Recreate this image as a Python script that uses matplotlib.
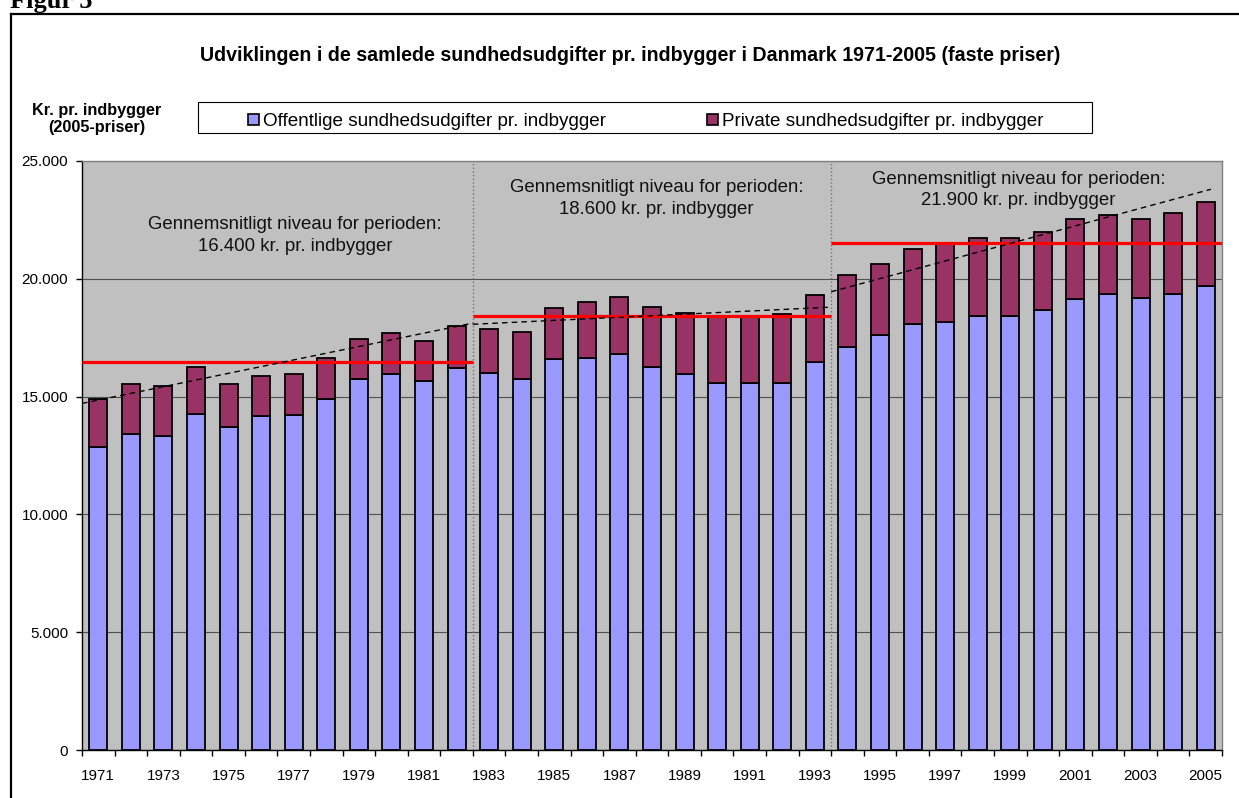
import numpy as np
import matplotlib
matplotlib.use("Agg")
import matplotlib.pyplot as plt
from matplotlib.patches import Rectangle
from matplotlib.lines import Line2D

plt.rcParams['font.family'] = ['Liberation Sans', 'DejaVu Sans']

# data (kr. pr. indbygger, 2005-priser)
years = list(range(1971, 2006))
offentlige = [12850, 13400, 13330, 14270, 13700, 14180, 14200, 14880, 15750, 15970,
              15660, 16210, 16010, 15760, 16590, 16640, 16790, 16250, 15970, 15590,
              15560, 15560, 16470, 17120, 17600, 18090, 18160, 18430, 18430, 18660,
              19140, 19340, 19170, 19370, 19700]
private = [2040, 2120, 2130, 2000, 1850, 1680, 1740, 1770, 1700, 1740,
           1710, 1780, 1870, 1980, 2170, 2390, 2430, 2550, 2590, 2840,
           2860, 2960, 2840, 3040, 3040, 3170, 3300, 3300, 3310, 3340,
           3400, 3380, 3380, 3430, 3540]

# the three periods, their average level and the dashed trend lines
periods = [(1971, 1982), (1983, 1993), (1994, 2005)]
avg_level = [16460, 18420, 21530]
avg_text = ["16.400", "18.600", "21.900"]
trend_years = [(1970.5, 1982.5), (1982.5, 1993.4), (1993.5, 2005.16)]
trend_vals = [(14710, 18120), (18070, 18790), (19450, 23800)]

W, H = 1239, 798


def fx(px):
    return px / W


def fy(py):
    return 1 - py / H


fig = plt.figure(figsize=(W / 100, H / 100), dpi=100)
ax = fig.add_axes([fx(82), fy(750), 1140 / W, 589 / H])
ax.set_facecolor('#C0C0C0')

x = np.arange(len(years))
ax.bar(x, offentlige, width=0.55, color='#9999FF', edgecolor='black', linewidth=1.3, zorder=3)
ax.bar(x, private, width=0.55, bottom=offentlige, color='#993366', edgecolor='black',
       linewidth=1.3, zorder=3)

# period separators, average levels and trends
for (y0, y1), lvl in zip(periods, avg_level):
    i0, i1 = years.index(y0) - 0.5, years.index(y1) + 0.5
    ax.hlines(lvl, i0, i1, color='#FF0000', linewidth=2.3, zorder=4)
for y0, y1 in periods[1:]:
    ax.axvline(years.index(y0) - 0.5, color='#707070', linestyle=':', linewidth=1, zorder=2)
for (t0, t1), (v0, v1) in zip(trend_years, trend_vals):
    ax.plot([t0 - years[0], t1 - years[0]], [v0, v1], color='black', linestyle=(0, (4, 3)),
            linewidth=1.0, zorder=5)

text_pos = [(6.04, 21840), (17.14, 23400), (28.25, 23770)]
for (tx, ty), t in zip(text_pos, avg_text):
    ax.text(tx, ty, "Gennemsnitligt niveau for perioden:\n" + t + " kr. pr. indbygger",
            ha='center', va='center', fontsize=13.4, color='#111111', linespacing=1.35, zorder=6)

ax.set_xlim(-0.5, len(years) - 0.5)
ax.set_ylim(0, 25000)
yt = np.arange(0, 25001, 5000)
ax.set_yticks(yt)
ax.set_yticklabels([f"{v:,}".replace(',', '.') for v in yt], fontsize=11)
ax.yaxis.grid(True, color='#505050', linewidth=0.8)
ax.set_axisbelow(True)
ax.tick_params(axis='y', length=4, width=1, pad=6, direction='out')

# tick marks between categories, labels on every other year
ax.set_xticks(np.arange(-0.5, len(years), 1))
ax.set_xticklabels([])
ax.set_xticks(x[::2], minor=True)
ax.set_xticklabels([str(y) for y in years[::2]], minor=True, fontsize=11)
ax.tick_params(axis='x', which='major', length=4, width=1, direction='out')
ax.tick_params(axis='x', which='minor', length=0, pad=13.5)

for s in ['left', 'bottom']:
    ax.spines[s].set_color('black')
    ax.spines[s].set_linewidth(1)
for s in ['top', 'right']:
    ax.spines[s].set_color('#808080')
    ax.spines[s].set_linewidth(1)

# title, axis label
fig.text(fx(630.5), fy(60.7), "Udviklingen i de samlede sundhedsudgifter pr. indbygger i Danmark 1971-2005 (faste priser)",
         ha='center', va='baseline', fontsize=14.1, fontweight='bold')
fig.text(fx(97), fy(115), "Kr. pr. indbygger", ha='center', va='baseline', fontsize=11.7, fontweight='bold')
fig.text(fx(97), fy(132), "(2005-priser)", ha='center', va='baseline', fontsize=11.7, fontweight='bold')

# legend box drawn by hand
fig.patches.append(Rectangle((fx(198), fy(133)), fx(1092) - fx(198), fy(102) - fy(133),
                             transform=fig.transFigure, facecolor='white', edgecolor='black', linewidth=0.8))
for sx, col, lab in [(248, '#9999FF', "Offentlige sundhedsudgifter pr. indbygger"),
                     (707, '#993366', "Private sundhedsudgifter pr. indbygger")]:
    fig.patches.append(Rectangle((fx(sx), fy(125)), fx(11), 11 / H, transform=fig.transFigure,
                                 facecolor=col, edgecolor='black', linewidth=1.2))
    fig.text(fx(sx + 15), fy(126), lab, ha='left', va='baseline', fontsize=13.6)

# outer frame and figure number
fig.lines.append(Line2D([fx(11), fx(1245)], [fy(14), fy(14)], transform=fig.transFigure,
                        color='black', linewidth=1.6))
fig.lines.append(Line2D([fx(11), fx(11)], [fy(14), fy(805)], transform=fig.transFigure,
                        color='black', linewidth=1.6))
fig.text(fx(10), fy(8), "Figur 5", ha='left', va='baseline', fontsize=19, fontweight='bold',
         family='Liberation Serif')

fig.savefig('out.png', dpi=100)
